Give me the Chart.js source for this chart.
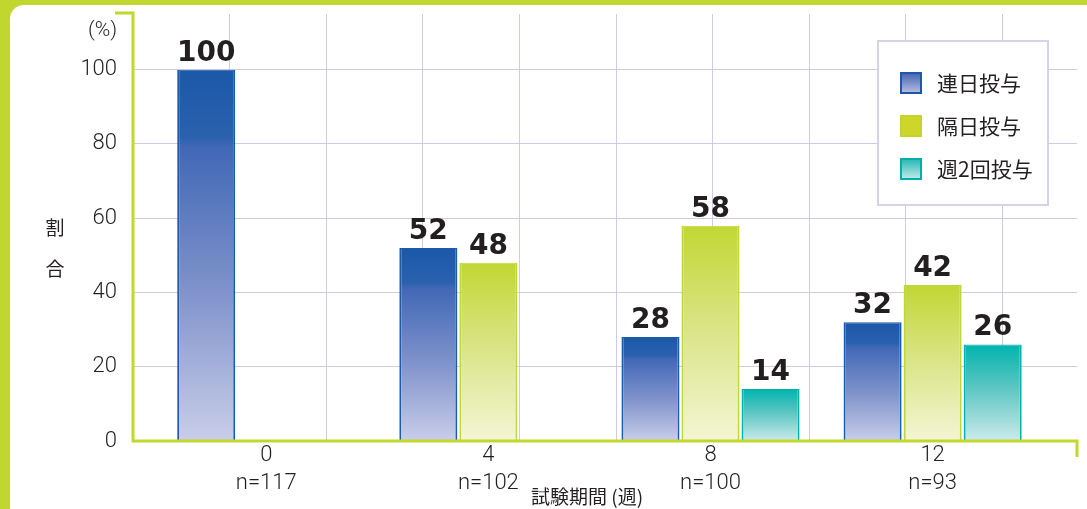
<!DOCTYPE html>
<html>
<head>
<meta charset="utf-8">
<script src="https://cdn.jsdelivr.net/npm/chart.js@4"></script>
<style>
  html, body { margin: 0; padding: 0; background: #fff; }
  #frame { position: relative; width: 1087px; height: 509px; background: #c1d72f; overflow: hidden; }
  #panel { position: absolute; left: 10px; top: 5px; right: 0; bottom: 0; background: #fff; border-top-left-radius: 14px; }
  #myChart { position: absolute; left: 0; top: 0; }
</style>
</head>
<body>
<div id="frame">
  <div id="panel"></div>
  <canvas id="myChart" width="1087" height="509"></canvas>
</div>
<script>
// データ
const weeks = [0, 4, 8, 12];
const nCounts = [117, 102, 100, 93];
const seriesNames = ["連日投与", "隔日投与", "週2回投与"];
const dailyValues = [100, 52, 28, 32];
const alternateValues = [null, 48, 58, 42];
const twiceWeeklyValues = [null, null, 14, 26];
const yTicks = [0, 20, 40, 60, 80, 100];

const LIME = "#c1d72f";
const GRID = "#cdcbe6";
const TEXT = "#231f20";

// グラデーション
const blueStops = [[0, "#1b58a8"], [0.18, "#2a61af"], [0.21, "#4168b6"], [0.6, "#8093cb"], [1, "#c9cee9"]];
const greenStops = [[0, "#c1d733"], [0.5, "#dbe58a"], [1, "#f3f6d4"]];
const tealStops = [[0, "#00b4af"], [0.45, "#5cc6c3"], [1, "#cbebea"]];

function toPoints(values) {
  const pts = [];
  values.forEach((v, i) => {
    if (v !== null) pts.push({ x: weeks[i], y: v });
  });
  return pts;
}

function barGradient(stops) {
  return function (context) {
    const chart = context.chart;
    if (!chart.chartArea || !context.raw) return stops[0][1];
    const yScale = chart.scales.y;
    const top = yScale.getPixelForValue(context.raw.y);
    const bottom = yScale.getPixelForValue(0);
    const g = chart.ctx.createLinearGradient(0, top, 0, bottom);
    stops.forEach((s) => g.addColorStop(s[0], s[1]));
    return g;
  };
}

function noPadding(scale) {
  scale.paddingTop = 0;
  scale.paddingBottom = 0;
  scale.paddingLeft = 0;
  scale.paddingRight = 0;
}

// 装飾（軸線・数値・凡例・見出し）
const decorPlugin = {
  id: "decor",
  afterDatasetsDraw(chart) {
    const ctx = chart.ctx;
    const a = chart.chartArea;
    ctx.save();

    // 緑の軸線
    ctx.strokeStyle = LIME;
    ctx.lineWidth = 3;
    ctx.beginPath();
    ctx.moveTo(a.left - 18, a.top - 1);
    ctx.lineTo(a.left, a.top - 1);
    ctx.lineTo(a.left, a.bottom);
    ctx.lineTo(a.right, a.bottom);
    ctx.lineTo(a.right, a.bottom + 16);
    ctx.stroke();

    // 棒の上の数値
    ctx.font = 'bold 28px "DejaVu Sans"';
    ctx.fillStyle = TEXT;
    ctx.textAlign = "center";
    ctx.textBaseline = "alphabetic";
    chart.data.datasets.forEach((ds, i) => {
      chart.getDatasetMeta(i).data.forEach((bar, j) => {
        ctx.fillText(String(ds.data[j].y), bar.x, bar.y - 9);
      });
    });

    // 見出し
    ctx.font = '300 21px "Roboto", "Noto Sans CJK JP"';
    ctx.textAlign = "right";
    ctx.textBaseline = "middle";
    ctx.fillText("(%)", a.left - 16, 31);

    ctx.font = '19px "Noto Sans CJK JP"';
    ctx.textAlign = "center";
    ctx.fillText("割", 55, 228);
    ctx.fillText("合", 55, 269);

    ctx.textAlign = "left";
    ctx.fillText("試験期間 (週)", 531, 497);

    // 凡例
    const box = { left: a.right - 199, top: a.top + 27, width: 170, height: 164 };
    ctx.fillStyle = "#fff";
    ctx.fillRect(box.left, box.top, box.width, box.height);
    ctx.strokeStyle = "#d4d3ea";
    ctx.lineWidth = 2;
    ctx.strokeRect(box.left, box.top, box.width, box.height);

    const legendStops = [
      [[0, "#3f5fae"], [1, "#bcc4e7"]],
      [[0, "#cbd626"], [1, "#cdd72c"]],
      [[0, "#1cb5b2"], [1, "#cdeceb"]],
    ];
    const legendBorders = ["#1f56a8", "#c4d42a", "#00afab"];
    chart.data.datasets.forEach((ds, i) => {
      const sx = box.left + 22;
      const sy = box.top + 31 + i * 43;
      const g = ctx.createLinearGradient(0, sy, 0, sy + 22);
      legendStops[i].forEach((s) => g.addColorStop(s[0], s[1]));
      ctx.fillStyle = g;
      ctx.fillRect(sx, sy, 22, 22);
      ctx.strokeStyle = legendBorders[i];
      ctx.lineWidth = 2;
      ctx.strokeRect(sx + 1, sy + 1, 20, 20);
      ctx.fillStyle = TEXT;
      ctx.font = '21px "Noto Sans CJK JP"';
      ctx.textAlign = "left";
      ctx.textBaseline = "middle";
      ctx.fillText(ds.label, box.left + 59, sy + 11);
    });

    ctx.restore();
  },
};

const ctx = document.getElementById("myChart").getContext("2d");
new Chart(ctx, {
  type: "bar",
  data: {
    datasets: [
      {
        label: seriesNames[0],
        data: toPoints(dailyValues),
        xAxisID: "x",
        backgroundColor: barGradient(blueStops),
        borderColor: "#1a5bb0",
        borderWidth: { left: 2, right: 2, top: 1, bottom: 0 },
        borderSkipped: false,
      },
      {
        label: seriesNames[1],
        data: toPoints(alternateValues),
        xAxisID: "x",
        backgroundColor: barGradient(greenStops),
        borderColor: "#bfd53a",
        borderWidth: { left: 2, right: 2, top: 1, bottom: 0 },
        borderSkipped: false,
      },
      {
        label: seriesNames[2],
        data: toPoints(twiceWeeklyValues),
        xAxisID: "x",
        backgroundColor: barGradient(tealStops),
        borderColor: "#00b1ad",
        borderWidth: { left: 2, right: 2, top: 1, bottom: 0 },
        borderSkipped: false,
      },
    ],
  },
  options: {
    responsive: false,
    devicePixelRatio: 1,
    animation: false,
    categoryPercentage: 0.811,
    barPercentage: 0.967,
    layout: { padding: { top: 14, right: 10, left: 0, bottom: 0 } },
    plugins: {
      legend: { display: false },
      tooltip: { enabled: false },
    },
    scales: {
      x: {
        type: "linear",
        position: "bottom",
        offset: false,
        min: -2.4,
        max: 14.6,
        grid: { display: false, drawTicks: false, offset: false },
        border: { display: false },
        afterBuildTicks: (scale) => {
          scale.ticks = weeks.map((w) => ({ value: w }));
        },
        afterFit: (scale) => {
          scale.height = 68;
          noPadding(scale);
        },
        ticks: {
          padding: 1,
          color: TEXT,
          maxRotation: 0,
          autoSkip: false,
          font: { family: "Roboto", weight: "300", size: 22, lineHeight: 1.27 },
          callback: (value) => [String(value), "n=" + nCounts[weeks.indexOf(value)]],
        },
      },
      xg: {
        type: "linear",
        position: "top",
        offset: false,
        min: 0,
        max: 9.77,
        grid: { color: GRID, lineWidth: 1, drawTicks: false, offset: false },
        border: { display: false },
        ticks: { display: false, stepSize: 1 },
        afterBuildTicks: (scale) => {
          scale.ticks = scale.ticks.filter((t) => Number.isInteger(t.value));
        },
        afterFit: (scale) => {
          scale.height = 0;
          noPadding(scale);
        },
      },
      y: {
        min: 0,
        max: 115,
        grid: { color: GRID, lineWidth: 1, drawTicks: false },
        border: { display: false },
        afterBuildTicks: (scale) => {
          scale.ticks = yTicks.map((v) => ({ value: v }));
        },
        afterFit: (scale) => {
          scale.width = 133;
          noPadding(scale);
        },
        ticks: {
          padding: 16,
          color: TEXT,
          font: { family: "Roboto", weight: "300", size: 22 },
        },
      },
    },
  },
  plugins: [decorPlugin],
});
</script>
</body>
</html>
